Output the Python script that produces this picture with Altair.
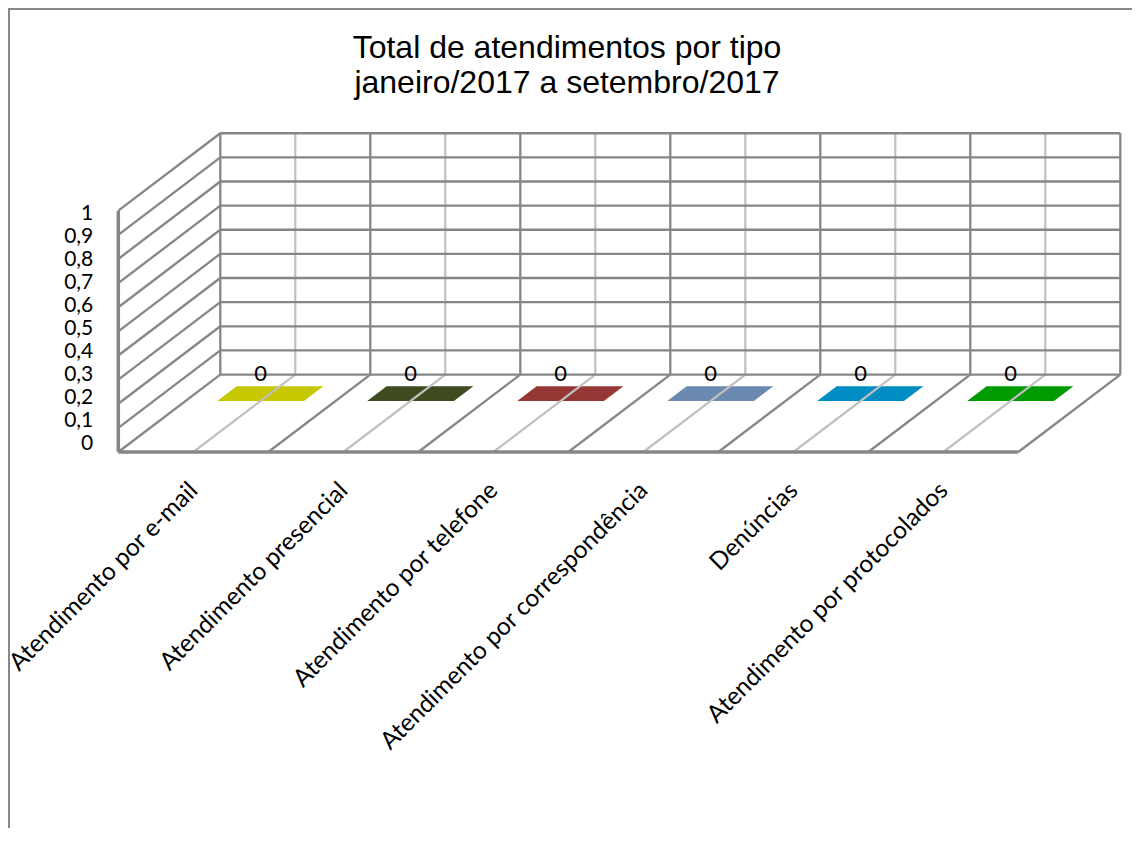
import altair as alt
import pandas as pd

# ---------------- data ----------------
categories = [
    "Atendimento por e-mail",
    "Atendimento presencial",
    "Atendimento por telefone",
    "Atendimento por correspondência",
    "Denúncias",
    "Atendimento por protocolados",
]
values = [0, 0, 0, 0, 0, 0]
bar_colors = ["#C8C800", "#3D4B1F", "#953735", "#6B89B1", "#008DC3", "#009B00"]
y_ticks = [0, 0.1, 0.2, 0.3, 0.4, 0.5, 0.6, 0.7, 0.8, 0.9, 1.0]
y_tick_labels = ["0", "0,1", "0,2", "0,3", "0,4", "0,5", "0,6", "0,7", "0,8", "0,9", "1"]
title_lines = ["Total de atendimentos por tipo", "\u00a0janeiro/2017 a setembro/2017"]

# ---------------- 3D projection helpers (data units) ----------------
DX, DY = 0.68, 0.321          # depth vector (category units, value units)
BAR_HALF = 0.289              # half bar width in category units
D0, D1 = 0.66, 0.85           # bar depth span
N = len(categories)
DARK, LIGHT = "#868686", "#C0C0C0"

def proj(x, y, d):
    return x + d * DX, y + d * DY

# grid lines
grid = []
for v in y_ticks:
    x1, y1 = proj(0, v, 1); x2, y2 = proj(N, v, 1)
    grid.append(dict(x=x1, y=y1, x2=x2, y2=y2, kind="dark"))
    x1, y1 = proj(0, v, 0); x2, y2 = proj(0, v, 1)
    grid.append(dict(x=x1, y=y1, x2=x2, y2=y2, kind="dark"))
for k in range(N + 1):
    x1, y1 = proj(k, 0, 1); x2, y2 = proj(k, 1, 1)
    grid.append(dict(x=x1, y=y1, x2=x2, y2=y2, kind="dark"))
    if k > 0:
        x1, y1 = proj(k, 0, 0); x2, y2 = proj(k, 0, 1)
        grid.append(dict(x=x1, y=y1, x2=x2, y2=y2, kind="dark"))
for k in range(N):
    c = k + 0.5
    x1, y1 = proj(c, 0, 1); x2, y2 = proj(c, 1, 1)
    grid.append(dict(x=x1, y=y1, x2=x2, y2=y2, kind="light"))
    x1, y1 = proj(c, 0, 0); x2, y2 = proj(c, 0, 1)
    grid.append(dict(x=x1, y=y1, x2=x2, y2=y2, kind="light"))
edges = [
    dict(x=0, y=0, x2=N, y2=0),   # floor front edge
    dict(x=0, y=0, x2=0, y2=1),   # left wall front edge
]
grid_df = pd.DataFrame(grid)
edges_df = pd.DataFrame(edges)

# bars (flat top faces of zero-height 3D columns)
bars = []
for k, (cat, val) in enumerate(zip(categories, values)):
    c = k + 0.5
    for d in (D0, D1):
        xa, ya = proj(c - BAR_HALF, val, d)
        xb, _ = proj(c + BAR_HALF, val, d)
        bars.append(dict(cat=cat, y=ya, x=xa, x2=xb))
bars_df = pd.DataFrame(bars)

# value labels
lab = []
for k, (cat, val) in enumerate(zip(categories, values)):
    x, y = proj(k + 0.5, val, D0)
    lab.append(dict(x=x, y=y, text=str(val)))
lab_df = pd.DataFrame(lab)

# y tick labels (placed along the 3D left wall)
ytl_df = pd.DataFrame(dict(
    x=[-25 / 150] * len(y_ticks),
    y=[0.0332 + 0.9544 * v for v in y_ticks],
    text=y_tick_labels,
))

# category labels
cat_df = pd.DataFrame(dict(
    x=[k + 0.5 + 0.006 for k in range(N)],
    y=[-0.145] * N,
    text=categories,
))

# ---------------- scales ----------------
XS = alt.Scale(domain=[0, N], range=[110.3, 1010.3], nice=False, zero=False)
YS = alt.Scale(domain=[0, 1], range=[444, 202.7], nice=False, zero=False)

def X(f="x"):
    return alt.X(f"{f}:Q", scale=XS, axis=None)

def Y(f="y"):
    return alt.Y(f"{f}:Q", scale=YS, axis=None)

bar_layer = alt.Chart(bars_df).mark_area(orient="horizontal", opacity=1).encode(
    y=Y(), x=X(), x2="x2:Q",
    color=alt.Color("cat:N", scale=alt.Scale(domain=categories, range=bar_colors), legend=None),
    detail="cat:N",
)

light_layer = alt.Chart(grid_df).transform_filter("datum.kind == 'light'").mark_rule(
    color=LIGHT, strokeWidth=2.2
).encode(x=X(), y=Y(), x2="x2:Q", y2="y2:Q")

dark_layer = alt.Chart(grid_df).transform_filter("datum.kind == 'dark'").mark_rule(
    color=DARK, strokeWidth=2.3
).encode(x=X(), y=Y(), x2="x2:Q", y2="y2:Q")

edge_layer = alt.Chart(edges_df).mark_rule(color=DARK, strokeWidth=3.5).encode(
    x=X(), y=Y(), x2="x2:Q", y2="y2:Q"
)

val_text = alt.Chart(lab_df).mark_text(
    font="Lato", fontSize=22, color="black", baseline="middle", align="center", dy=-27
).encode(x=X(), y=Y(), text="text:N")

ytl_text = alt.Chart(ytl_df).mark_text(
    font="Lato", fontSize=21, color="black", baseline="middle", align="right"
).encode(x=X(), y=Y(), text="text:N")

cat_text = alt.Chart(cat_df).mark_text(
    font="Lato", fontSize=24.5, color="black", baseline="middle", align="right", angle=315
).encode(x=X(), y=Y(), text="text:N")

frame_left = alt.Chart(pd.DataFrame({"a": [0]})).mark_rule(color="#888888", strokeWidth=2).encode(
    x=alt.value(1), y=alt.value(0), y2=alt.value(900)
)
frame_top = alt.Chart(pd.DataFrame({"a": [0]})).mark_rule(color="#888888", strokeWidth=2).encode(
    x=alt.value(0), x2=alt.value(1200), y=alt.value(1)
)

chart = alt.layer(
    bar_layer, light_layer, dark_layer, edge_layer, val_text, ytl_text, cat_text,
    frame_left, frame_top,
).properties(
    width=1124,
    height=820,
    padding=0,
    autosize=alt.AutoSizeParams(type="none"),
    title=alt.TitleParams(
        text=title_lines, anchor="middle", orient="top", frame="group",
        offset=-93, dx=-3,
        fontSize=32, font="Liberation Sans", fontWeight="normal", color="black",
        lineHeight=35,
    ),
).configure_view(stroke=None)

chart.save("out.html", embed_options={"renderer": "svg", "actions": False})
